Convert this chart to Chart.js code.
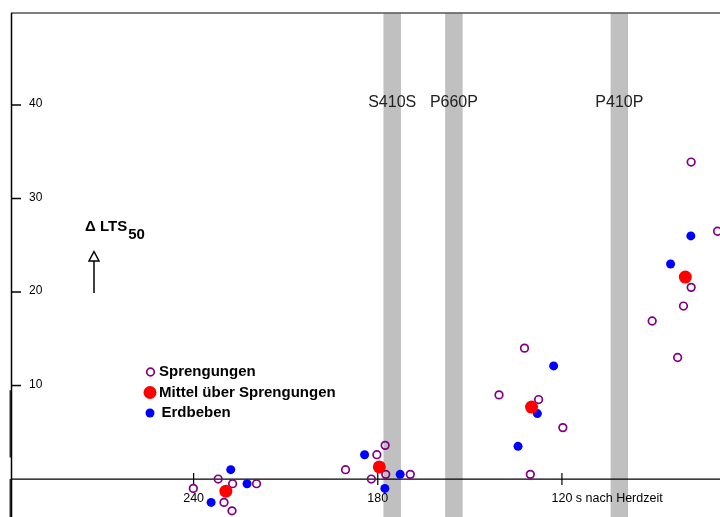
<!DOCTYPE html>
<html>
<head>
<meta charset="utf-8">
<script src="https://cdn.jsdelivr.net/npm/chart.js@4"></script>
<style>
  html, body { margin: 0; padding: 0; background: #ffffff; }
  canvas { display: block; }
</style>
</head>
<body>
<canvas id="c" width="720" height="517"></canvas>
<script>
// Laufzeit vor der Herdzeit (s) und Delta LTS50 der einzelnen Sprengungen
const sprengX = [240.1, 232.0, 227.3, 219.5, 230.1, 227.5,
                 190.5, 180.3, 177.6, 182.1, 177.4, 169.4,
                 132.2, 140.5, 127.6, 119.7, 130.3,
                 77.9, 69.3, 77.9, 80.4, 90.6, 82.3];
const sprengY = [-1.0, 0.0, -0.5, -0.5, -2.5, -3.4,
                 1.0, 2.6, 3.6, 0.0, 0.5, 0.5,
                 14.0, 9.0, 8.5, 5.5, 0.5,
                 33.9, 26.5, 20.5, 18.5, 16.9, 13.0];

// Erdbeben
const bebenX = [227.9, 222.6, 234.3, 184.3, 172.7, 177.7, 122.7, 128.0, 134.3, 78.0, 84.6];
const bebenY = [1.0, -0.5, -2.5, 2.6, 0.5, -1.0, 12.1, 7.0, 3.5, 26.0, 23.0];

// Mittelwerte je Zeitfenster
const mittelX = [229.5, 179.5, 129.9, 79.8];
const mittelY = [-1.3, 1.3, 7.7, 21.6];

// Phasen-Einsatzzeiten (graue Balken)
const phaseNames = ['S410S', 'P660P', 'P410P'];
const phaseTimes = [175.3, 155.2, 101.3];
const phaseWidth = 5.7;

// Achsenbeschriftung
const yTicks = [10, 20, 30, 40];
const xTicks = [240, 180, 120];
const xTickLabels = ['240', '180', '120 s nach Herdzeit'];

const legendItems = ['Sprengungen', 'Mittel über Sprengungen', 'Erdbeben'];

const toPoints = (xs, ys) => xs.map((x, i) => ({ x: x, y: ys[i] }));

const FONT = '"Liberation Sans", Arial, sans-serif';
const PURPLE = '#800080';
const BLUE = '#0000ff';
const RED = '#ff0000';

const decor = {
  id: 'decor',
  beforeDatasetsDraw(chart) {
    const ctx = chart.ctx;
    const xs = chart.scales.x, ys = chart.scales.y;
    const area = chart.chartArea;
    ctx.save();
    // Phasenbalken
    ctx.fillStyle = '#c0c0c0';
    phaseTimes.forEach(t => {
      const a = xs.getPixelForValue(t + phaseWidth / 2);
      const b = xs.getPixelForValue(t - phaseWidth / 2);
      ctx.fillRect(a, area.top, b - a, area.bottom - area.top);
    });
    // Rahmen oben
    ctx.strokeStyle = '#555555';
    ctx.lineWidth = 1.5;
    ctx.beginPath();
    ctx.moveTo(area.left, area.top);
    ctx.lineTo(area.right, area.top);
    ctx.stroke();
    // linke Achse
    const y0 = ys.getPixelForValue(0);
    ctx.strokeStyle = '#000000';
    ctx.beginPath();
    ctx.moveTo(area.left + 0.5, area.top);
    ctx.lineTo(area.left + 0.5, area.bottom);
    ctx.stroke();
    // verstärkte Abschnitte der linken Achse
    ctx.lineWidth = 1.2;
    ctx.beginPath();
    ctx.moveTo(area.left - 0.8, ys.getPixelForValue(9.5));
    ctx.lineTo(area.left - 0.8, ys.getPixelForValue(2.3));
    ctx.moveTo(area.left - 0.8, y0);
    ctx.lineTo(area.left - 0.8, area.bottom);
    ctx.stroke();
    // Nulllinie
    ctx.lineWidth = 1.3;
    ctx.beginPath();
    ctx.moveTo(area.left, y0);
    ctx.lineTo(area.right, y0);
    ctx.stroke();
    // y-Ticks
    ctx.lineWidth = 1.5;
    ctx.fillStyle = '#000000';
    ctx.font = '12px ' + FONT;
    ctx.textAlign = 'left';
    ctx.textBaseline = 'middle';
    yTicks.forEach(v => {
      const p = ys.getPixelForValue(v);
      ctx.beginPath();
      ctx.moveTo(area.left, p);
      ctx.lineTo(area.left + 10, p);
      ctx.stroke();
      ctx.fillText(String(v), area.left + 18, p - 1);
    });
    // x-Ticks
    ctx.lineWidth = 1.2;
    ctx.font = '12.5px ' + FONT;
    xTicks.forEach((v, i) => {
      const p = xs.getPixelForValue(v);
      ctx.beginPath();
      ctx.moveTo(p, y0 - 6);
      ctx.lineTo(p, y0 + 6);
      ctx.stroke();
      const lbl = xTickLabels[i];
      const head = lbl.split(' ')[0];
      const w = ctx.measureText(head).width;
      ctx.fillText(lbl, p - w / 2, y0 + 20);
    });
    ctx.restore();
  },
  afterDatasetsDraw(chart) {
    const ctx = chart.ctx;
    const xs = chart.scales.x, ys = chart.scales.y;
    ctx.save();
    // Phasennamen
    ctx.fillStyle = '#222222';
    ctx.font = '16px ' + FONT;
    ctx.textAlign = 'center';
    ctx.textBaseline = 'middle';
    phaseNames.forEach((n, i) => {
      ctx.fillText(n, xs.getPixelForValue(phaseTimes[i]), ys.getPixelForValue(40.3));
    });
    // Legende
    const lx = 150, ly = [372, 392.5, 413];
    ctx.lineWidth = 1.7;
    ctx.strokeStyle = PURPLE;
    ctx.beginPath(); ctx.arc(lx + 0.5, ly[0], 3.8, 0, Math.PI * 2); ctx.stroke();
    ctx.fillStyle = RED;
    ctx.beginPath(); ctx.arc(lx, ly[1], 6.5, 0, Math.PI * 2); ctx.fill();
    ctx.fillStyle = BLUE;
    ctx.beginPath(); ctx.arc(lx, ly[2], 4.5, 0, Math.PI * 2); ctx.fill();
    ctx.fillStyle = '#000000';
    ctx.font = 'bold 15px ' + FONT;
    ctx.textAlign = 'left';
    ctx.fillText(legendItems[0], 159, ly[0]);
    ctx.fillText(legendItems[1], 159, ly[1]);
    ctx.fillText(legendItems[2], 161.5, ly[2]);
    // Delta LTS50 mit Pfeil
    ctx.font = 'bold 15px ' + FONT;
    ctx.textBaseline = 'alphabetic';
    ctx.fillText('\u0394 LTS', 85, 231);
    const wl = ctx.measureText('\u0394 LTS').width;
    ctx.fillText('50', 85 + wl + 1, 238.5);
    ctx.strokeStyle = '#000000';
    ctx.lineWidth = 1.5;
    ctx.beginPath();
    ctx.moveTo(94, 293);
    ctx.lineTo(94, 261);
    ctx.stroke();
    ctx.beginPath();
    ctx.moveTo(94, 251.5);
    ctx.lineTo(99, 261);
    ctx.lineTo(89, 261);
    ctx.closePath();
    ctx.stroke();
    ctx.restore();
  }
};

new Chart(document.getElementById('c'), {
  type: 'scatter',
  data: {
    datasets: [
      {
        label: legendItems[0],
        data: toPoints(sprengX, sprengY),
        pointStyle: 'circle',
        pointRadius: 3.8,
        pointBorderWidth: 1.7,
        borderColor: PURPLE,
        backgroundColor: 'rgba(255,255,255,0)',
        order: 3
      },
      {
        label: legendItems[2],
        data: toPoints(bebenX, bebenY),
        pointRadius: 4.5,
        pointBorderWidth: 0,
        borderColor: BLUE,
        backgroundColor: BLUE,
        order: 2
      },
      {
        label: legendItems[1],
        data: toPoints(mittelX, mittelY),
        pointRadius: 6.5,
        pointBorderWidth: 0,
        borderColor: RED,
        backgroundColor: RED,
        order: 1
      }
    ]
  },
  options: {
    responsive: false,
    animation: false,
    devicePixelRatio: 1,
    layout: { autoPadding: false, padding: { left: 11, top: 13, right: 0, bottom: 0 } },
    plugins: { legend: { display: false }, tooltip: { enabled: false } },
    scales: {
      x: { type: 'linear', reverse: true, min: 68.5, max: 299.5, display: false },
      y: { type: 'linear', min: -4.06, max: 49.84, display: false }
    }
  },
  plugins: [decor]
});
</script>
</body>
</html>
